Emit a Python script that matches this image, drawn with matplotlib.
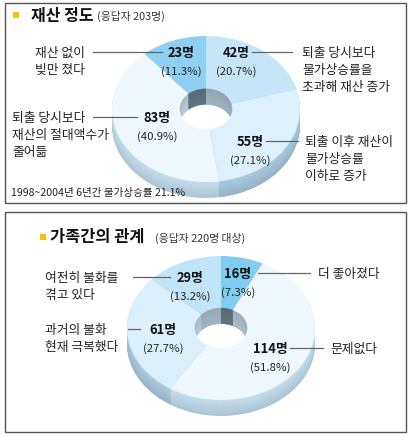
import matplotlib
matplotlib.use("Agg")
import matplotlib.pyplot as plt
from matplotlib.patches import Rectangle
import numpy as np

plt.rcParams['font.family'] = ['Noto Sans CJK KR', 'DejaVu Sans']

# ---------------- data ----------------
top_title = "재산 정도"
top_sub = "(응답자 203명)"
top_cats = ["퇴출 당시보다\n물가상승률을\n초과해 재산 증가",
            "퇴출 이후 재산이\n물가상승률\n이하로 증가",
            "퇴출 당시보다\n재산의 절대액수가\n줄어듦",
            "재산 없이\n빚만 졌다"]
top_counts = [42, 55, 83, 23]
top_pcts = [20.7, 27.1, 40.9, 11.3]
top_note = "1998~2004년 6년간 물가상승률 21.1%"

bot_title = "가족간의 관계"
bot_sub = "(응답자 220명 대상)"
bot_cats = ["더 좋아졌다", "문제없다", "과거의 불화\n현재 극복했다", "여전히 불화를\n겪고 있다"]
bot_counts = [16, 114, 61, 29]
bot_pcts = [7.3, 51.8, 27.7, 13.2]

# ---------------- styles ----------------
top_face = ["#c4e6f8", "#ddf0fb", "#eef8fe", "#8fd0f2"]
top_side = ["#b0cee0", "#a4c3d6", "#bcd6e5", "#92b7cc"]
top_wall = ["#9fb2be", "#a8bcc8", "#b9cbd6", "#5f7380"]
bot_face = ["#80cdf1", "#eef8fe", "#dcf0fb", "#c0e5f8"]
bot_side = ["#92b7cc", "#bcd6e5", "#a6c4d6", "#b0cee0"]
bot_wall = ["#5f7380", "#aabdc9", "#b9cbd6", "#a2b6c3"]

W, H = 411, 436
fig = plt.figure(figsize=(W / 100, H / 100), dpi=100)
ax = fig.add_axes([0, 0, 1, 1])
ax.set_xlim(0, W)
ax.set_ylim(H, 0)
ax.axis('off')

# frames
ax.add_patch(Rectangle((5, 3), 401, 200, fill=False, ec="#555555", lw=1.0))
ax.add_patch(Rectangle((5, 212), 401, 220, fill=False, ec="#555555", lw=1.0))


def darken(c, f):
    r, g, b = matplotlib.colors.to_rgb(c)
    return (min(r * f, 1), min(g * f, 1), min(b * f, 1))


def donut(cx, cy, rx, ry, depth, counts, face, side, wall, hole=0.28):
    x0 = (cx - rx) / W
    y_top = cy - ry
    y_bot = cy + ry + depth
    a = fig.add_axes([x0, 1 - y_bot / H, 2 * rx / W, (y_bot - y_top) / H])
    n = int(depth)
    for k in range(n, 0, -1):
        f = 1.04 - 0.12 * (k / n)
        a.pie(counts, radius=1, center=(0, -k / ry), startangle=90, counterclock=False,
              colors=[darken(c, f) for c in side],
              wedgeprops=dict(width=1 - hole, linewidth=0, antialiased=True), frame=True)
    for k in range(n, 0, -1):
        a.pie(counts, radius=hole + 0.3, center=(0, -k / ry), startangle=90, counterclock=False,
              colors=[darken(c, 1.0 - 0.08 * (1 - k / n)) for c in wall],
              wedgeprops=dict(width=0.3, linewidth=0), frame=True)
    a.pie(counts, radius=1, center=(0, 0), startangle=90, counterclock=False,
          colors=face, wedgeprops=dict(width=1 - hole, linewidth=0), frame=True)
    a.set_aspect('auto')
    a.set_xlim(-1, 1)
    a.set_ylim(-1 - depth / ry, 1)
    a.axis('off')


donut(206, 109, 94, 73, 16, top_counts, top_face, top_side, top_wall)
donut(221, 328, 94, 72, 16, bot_counts, bot_face, bot_side, bot_wall)

# overlay axes for text on top of pies
tx = fig.add_axes([0, 0, 1, 1])
tx.set_xlim(0, W)
tx.set_ylim(H, 0)
tx.axis('off')
tx.patch.set_alpha(0)

LC = "#666666"
TC = "#222222"

# titles
tx.add_patch(Rectangle((13, 12), 6, 6, color="#f5c400", lw=0))
tx.text(31, 15.5, top_title, fontsize=11.5, fontweight='bold', va='center', ha='left', color="#111111")
tx.text(97, 16.5, top_sub, fontsize=7.8, va='center', ha='left', color="#333333")
tx.add_patch(Rectangle((40, 234), 6, 6, color="#f5c400", lw=0))
tx.text(50, 237, bot_title, fontsize=11.8, fontweight='bold', va='center', ha='left', color="#111111")
tx.text(155, 238, bot_sub, fontsize=7.8, va='center', ha='left', color="#333333")


def num_label(x, y, count, pct, dy=19):
    tx.text(x, y + 1, f"{count}명", fontsize=9.3, fontweight='bold', ha='center', va='center', color="#111111")
    tx.text(x, y + 1 + dy, f"({pct}%)", fontsize=8.2, ha='center', va='center', color=TC)


def cat_label(x, y, s, spacing=1.4):
    tx.text(x, y - 5, s, fontsize=9.2, ha='left', va='top', color=TC, linespacing=spacing)


# top chart labels (order: 42, 55, 83, 23)
top_num_pos = [(236, 52), (250, 141), (157, 117), (181, 52)]
top_cat_pos = [(302, 52), (305, 141), (12, 117), (35, 52)]
top_lines = [(252, 292, 52), (266, 298, 141), (93, 137, 117), (93, 162, 52)]
for i in range(4):
    num_label(*top_num_pos[i], top_counts[i], top_pcts[i])
    cat_label(*top_cat_pos[i], top_cats[i], spacing=1.38)
    x1, x2, y = top_lines[i]
    tx.plot([x1, x2], [y, y], color=LC, lw=0.9)
tx.text(11, 193, top_note, fontsize=7.6, ha='left', va='center', color=TC)

# bottom chart labels (order: 16, 114, 61, 29)
bot_num_pos = [(238, 273), (270, 348), (163, 329), (190, 277)]
bot_cat_pos = [(318, 273), (330, 348), (45, 329), (45, 277)]
bot_lines = [(258, 310, 273), (290, 323, 348), (128, 140, 329), (133, 170, 277)]
for i in range(4):
    num_label(*bot_num_pos[i], bot_counts[i], bot_pcts[i])
    cat_label(*bot_cat_pos[i], bot_cats[i], spacing=1.42)
    x1, x2, y = bot_lines[i]
    tx.plot([x1, x2], [y, y], color=LC, lw=0.9)

fig.savefig("out.png", dpi=100)
